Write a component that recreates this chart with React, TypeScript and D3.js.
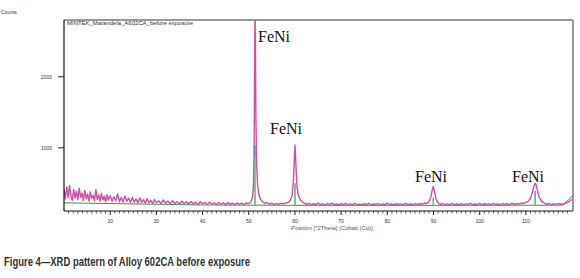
import React from 'react';
import * as d3 from 'd3';

const scanLow: [number, number][] = [
  [10.0, 420], [10.3, 280], [10.6, 450], [10.9, 300], [11.2, 470], [11.5, 320], [11.8, 260], [12.1, 410],
  [12.4, 290], [12.7, 390], [13.0, 270], [13.3, 430], [13.6, 300], [13.9, 360], [14.2, 260], [14.5, 400],
  [14.8, 280], [15.1, 350], [15.4, 250], [15.7, 380], [16.0, 290], [16.3, 330], [16.6, 250], [16.9, 410],
  [17.2, 270], [17.5, 340], [17.8, 250], [18.1, 360], [18.4, 265], [18.7, 320], [19.0, 240], [19.3, 340],
  [19.6, 260], [20.0, 330], [20.4, 245], [20.8, 310], [21.2, 250], [21.6, 350], [22.0, 240], [22.4, 300],
  [22.8, 235], [23.2, 320], [23.6, 245], [24.0, 290], [24.4, 230], [24.8, 300], [25.2, 235], [25.6, 280],
  [26.0, 225], [26.4, 295], [26.8, 230], [27.2, 270], [27.6, 220], [28.0, 285], [28.4, 225], [28.8, 260],
  [29.2, 215], [29.6, 270], [30.0, 225], [30.5, 255], [31.0, 215], [31.5, 265], [32.0, 220], [32.5, 250],
  [33.0, 210], [33.5, 255], [34.0, 215], [34.5, 245], [35.0, 205], [35.5, 250], [36.0, 215], [36.5, 240],
  [37.0, 205], [37.5, 245], [38.0, 210], [38.5, 235], [39.0, 200], [39.5, 240], [40.0, 210], [40.5, 230],
  [41.0, 200], [41.5, 235], [42.0, 205], [42.5, 225], [43.0, 198], [43.5, 230], [44.0, 205], [44.5, 225],
  [45.0, 198], [45.5, 228], [46.0, 203], [46.5, 222], [47.0, 198], [47.5, 225], [48.0, 202], [48.5, 220],
  [49.0, 200], [49.5, 225], [50.0, 215],
];
const peak1: [number, number][] = [
  [50.5, 240], [50.8, 300], [51.0, 450], [51.15, 900], [51.25, 1900], [51.35, 2950], [51.45, 2400],
  [51.55, 1400], [51.7, 800], [51.9, 480], [52.2, 340], [52.6, 270], [53.0, 240],
];
const scanA: [number, number][] = [
  [53.5, 215], [54.0, 230], [54.5, 205], [55.0, 220], [55.5, 200], [56.0, 215], [56.5, 205], [57.0, 220],
  [57.5, 210], [58.0, 225], [58.5, 230], [59.0, 260],
];
const peak2: [number, number][] = [
  [59.4, 330], [59.7, 560], [59.9, 900], [60.0, 1040], [60.1, 930], [60.3, 620], [60.5, 420], [60.8, 320],
  [61.2, 265], [61.6, 240],
];
const scanB: [number, number][] = [
  [62.0, 220], [62.5, 205], [63.0, 218], [63.5, 198], [64.0, 212], [64.5, 200], [65.0, 222], [65.5, 203],
  [66.0, 210], [66.5, 196], [67.0, 215], [67.5, 202], [68.0, 220], [68.5, 199], [69.0, 208], [69.5, 197],
  [70.0, 214], [70.5, 201], [71.0, 218], [71.5, 196], [72.0, 210], [72.5, 200], [73.0, 216], [73.5, 198],
  [74.0, 207], [74.5, 195], [75.0, 213], [75.5, 200], [76.0, 219], [76.5, 197], [77.0, 209], [77.5, 202],
  [78.0, 215], [78.5, 196], [79.0, 211], [79.5, 199], [80.0, 220], [80.5, 201], [81.0, 208], [81.5, 195],
  [82.0, 214], [82.5, 203], [83.0, 210], [83.5, 197], [84.0, 217], [84.5, 200], [85.0, 209], [85.5, 198],
  [86.0, 215], [86.5, 202], [87.0, 212], [87.5, 205], [88.0, 222], [88.5, 215],
];
const peak3: [number, number][] = [
  [89.0, 240], [89.4, 300], [89.7, 400], [89.95, 455], [90.2, 390], [90.5, 290], [90.9, 235], [91.2, 212],
];
const scanC: [number, number][] = [
  [91.5, 205], [92.0, 215], [92.5, 198], [93.0, 210], [93.5, 200], [94.0, 218], [94.5, 197], [95.0, 209],
  [95.5, 201], [96.0, 214], [96.5, 196], [97.0, 211], [97.5, 203], [98.0, 219], [98.5, 198], [99.0, 208],
  [99.5, 200], [100.0, 216], [100.5, 197], [101.0, 212], [101.5, 204], [102.0, 210], [102.5, 199],
  [103.0, 218], [103.5, 201], [104.0, 209], [104.5, 198], [105.0, 215], [105.5, 203], [106.0, 212],
  [106.5, 200], [107.0, 220], [107.5, 205], [108.0, 214], [108.5, 208], [109.0, 222], [109.5, 215],
  [110.0, 230], [110.5, 245],
];
const peak4: [number, number][] = [
  [111.0, 290], [111.4, 370], [111.8, 470], [112.0, 500], [112.2, 480], [112.5, 400], [112.9, 300],
  [113.4, 245],
];
const scanD: [number, number][] = [
  [114.0, 220], [114.5, 205], [115.0, 215], [115.5, 200], [116.0, 212], [116.5, 203], [117.0, 216],
  [117.5, 205], [118.0, 210], [118.5, 215], [119.0, 230], [119.5, 250], [120.0, 275],
];

// Reference pattern sticks [2Theta, counts]
const blueSticks: [number, number][] = [[51.35, 1040], [60.0, 500], [89.95, 300], [112.0, 390]];
const greenSticks: [number, number][] = [[51.35, 870], [60.0, 440], [89.95, 250], [112.0, 250]];
// fitted background
const background: [number, number][] = [[10, 225], [20, 215], [30, 205], [40, 195], [60, 190], [90, 190], [118, 192], [120.2, 330]];

const yTicks = [1000, 2000];
const xTicks = [20, 30, 40, 50, 60, 70, 80, 90, 100, 110];
const peakLabels = [
  { x: 258, y: 42, text: 'FeNi' },
  { x: 270, y: 134, text: 'FeNi' },
  { x: 415, y: 182, text: 'FeNi' },
  { x: 512, y: 182, text: 'FeNi' },
];

const scan = [...scanLow, ...peak1, ...scanA, ...peak2, ...scanB, ...peak3, ...scanC, ...peak4, ...scanD];

export default function App() {
  const left = 64, right = 573, top = 20, bottom = 211;
  const x = d3.scaleLinear().domain([10, 120.2]).range([left, right]);
  const y = d3.scaleLinear().domain([110, 2800]).range([bottom, top]);
  const line = d3.line<[number, number]>().x(d => x(d[0])).y(d => y(d[1]));
  const minor = d3.range(11, 121, 1).filter(v => v % 10 !== 0);
  const small = { fontFamily: 'Liberation Sans, Arial, sans-serif', fill: '#333' };

  return (
    <svg width={580} height={278} style={{ position: 'absolute', left: 0, top: 0, background: '#fff' }}>
      <defs>
        <clipPath id="plot">
          <rect x={left} y={top} width={right - left} height={bottom - top} />
        </clipPath>
      </defs>
      <text x={1} y={14} fontSize={5} {...small}>Counts</text>

      {/* frame */}
      <line x1={left} x2={right} y1={top} y2={top} stroke="#777" strokeWidth={1.5} />
      <line x1={right} x2={right} y1={top} y2={bottom} stroke="#777" strokeWidth={1.5} />

      <text x={67} y={25} fontSize={5.5} textLength={126} lengthAdjust="spacingAndGlyphs" {...small}>
        MINTEK_Marandela_A602CA_before exposure
      </text>

      <g clipPath="url(#plot)">
        <path d={line(background) || ''} fill="none" stroke="#3f8f5a" strokeWidth={1} />
        <path d={line(scan) || ''} fill="none" stroke="#cf4fa3" strokeWidth={1.4} strokeLinejoin="round" />
        {blueSticks.map((d, i) => (
          <line key={'b' + i} x1={x(d[0])} x2={x(d[0])} y1={y(190)} y2={y(d[1])} stroke="#4a6fc8" strokeWidth={1.2} />
        ))}
        {greenSticks.map((d, i) => (
          <line key={'g' + i} x1={x(d[0])} x2={x(d[0])} y1={y(190)} y2={y(d[1])} stroke="#7fd35a" strokeWidth={1.2} />
        ))}
      </g>

      {/* y axis */}
      <line x1={left} x2={left} y1={top} y2={bottom} stroke="#111" strokeWidth={1.2} />
      {yTicks.map(t => (
        <g key={t}>
          <line x1={left - 6} x2={left} y1={y(t)} y2={y(t)} stroke="#222" />
          <text x={52} y={y(t) + 1.8} fontSize={5} textAnchor="end" {...small}>{t}</text>
        </g>
      ))}

      {/* x axis */}
      <line x1={left} x2={right} y1={bottom} y2={bottom} stroke="#111" strokeWidth={1.2} />
      {minor.map(t => (
        <line key={t} x1={x(t)} x2={x(t)} y1={bottom} y2={bottom + 2.5} stroke="#333" strokeWidth={0.8} />
      ))}
      {xTicks.map(t => (
        <g key={t}>
          <line x1={x(t)} x2={x(t)} y1={bottom} y2={bottom + 4} stroke="#222" />
          <text x={x(t)} y={223} fontSize={5} textAnchor="middle" {...small}>{t}</text>
        </g>
      ))}
      <text x={291} y={230} fontSize={5.5} textLength={82} lengthAdjust="spacingAndGlyphs" {...small} fill="#555">
        Position [°2Theta] (Cobalt (Co))
      </text>

      {peakLabels.map((p, i) => (
        <text key={i} x={p.x} y={p.y} fontSize={16} fontFamily="Liberation Serif, Times New Roman, serif" fill="#111">
          {p.text}
        </text>
      ))}

      <text x={4} y={266} fontSize={12} fontWeight="bold" textLength={246} lengthAdjust="spacingAndGlyphs"
        fontFamily="Liberation Sans Narrow, Arial Narrow, Liberation Sans, Arial, sans-serif" fill="#333">
        Figure 4—XRD pattern of Alloy 602CA before exposure
      </text>
    </svg>
  );
}
